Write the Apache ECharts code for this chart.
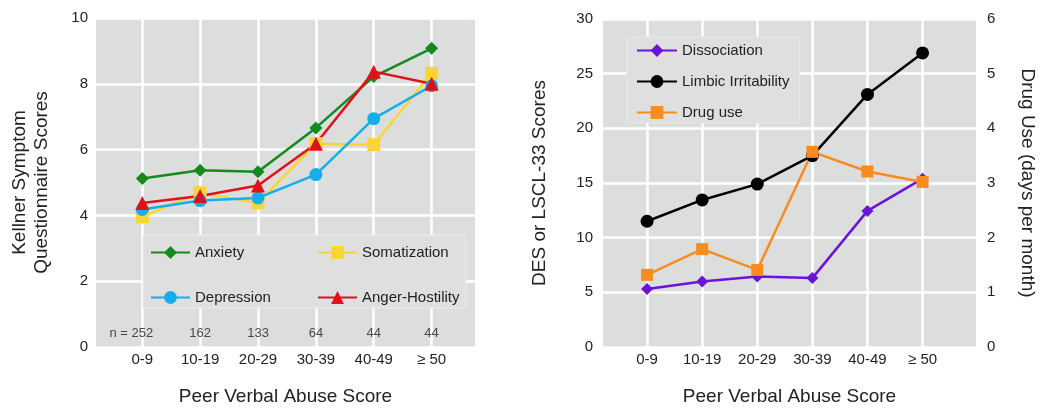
<!DOCTYPE html>
<html>
<head>
<meta charset="utf-8">
<script src="https://cdn.jsdelivr.net/npm/echarts@6/dist/echarts.min.js"></script>
<style>
  html, body { margin: 0; padding: 0; background: #fff; }
  #main { width: 1043px; height: 411px; }
</style>
</head>
<body>
<div id="main"></div>
<script>
// x categories (Peer Verbal Abuse Score)
const categories = ['0-9', '10-19', '20-29', '30-39', '40-49', '≥ 50']
const nCounts = [252, 162, 133, 64, 44, 44]

// left panel - Kellner Symptom Questionnaire
const anxiety = [5.12, 5.37, 5.33, 6.66, 8.22, 9.08]
const somatization = [3.96, 4.69, 4.38, 6.18, 6.15, 8.32]
const depression = [4.18, 4.45, 4.53, 5.24, 6.94, 7.94]
const angerHostility = [4.38, 4.59, 4.91, 6.18, 8.37, 8.0]

// right panel
const dissociation = [5.3, 6.0, 6.45, 6.3, 12.45, 15.4]
const limbic = [11.5, 13.45, 14.9, 17.5, 23.1, 26.9]
const drugUse = [1.32, 1.79, 1.41, 3.57, 3.21, 3.02]

const font = 'Liberation Sans, Arial, sans-serif'
const textColor = '#222'
const plotBg = '#dcdddd'

const toPoints = arr => arr.map((v, i) => [i + 1, v])
const catLabel = val => (Number.isInteger(val) && categories[val - 1]) ? categories[val - 1] : ''

const chartInstance = echarts.init(document.getElementById('main'))

const xAxisBase = (gridIndex, max) => ({
  type: 'value',
  gridIndex: gridIndex,
  min: 0.2,
  max: max,
  minInterval: 1,
  maxInterval: 1,
  axisLine: { show: false },
  axisTick: { show: false },
  axisLabel: {
    formatter: catLabel,
    color: textColor,
    fontFamily: font,
    fontSize: 15,
    margin: 5
  },
  splitLine: {
    show: true,
    showMinLine: false,
    showMaxLine: false,
    lineStyle: { color: '#fff', width: 2.5 }
  },
  name: 'Peer Verbal Abuse Score',
  nameLocation: 'middle',
  nameGap: 40,
  nameTextStyle: { color: textColor, fontFamily: font, fontSize: 19 }
})

const lineSeries = (name, data, color, symbol, size, xIdx, yIdx) => ({
  name: name,
  type: 'line',
  xAxisIndex: xIdx,
  yAxisIndex: yIdx,
  data: toPoints(data),
  color: color,
  symbol: symbol,
  symbolSize: size,
  lineStyle: { width: 2.5, color: color },
  itemStyle: { color: color },
  emphasis: { disabled: true }
})

const legendText = { color: textColor, fontFamily: font, fontSize: 15 }

const initOption = {
  animation: false,
  grid: [
    { left: 96, right: 568, top: 18, bottom: 64, show: true, backgroundColor: plotBg, borderWidth: 0 },
    { left: 603, right: 67, top: 19, bottom: 64, show: true, backgroundColor: plotBg, borderWidth: 0 }
  ],
  legend: [
    {
      // left panel, first column (its background spans the whole box)
      data: ['Anxiety', 'Depression'],
      left: 143,
      top: 235,
      orient: 'vertical',
      itemWidth: 39,
      itemHeight: 16,
      itemGap: 30,
      padding: [10, 195, 3, 7],
      backgroundColor: '#dfdfdf',
      borderColor: '#ececec',
      borderWidth: 1,
      textStyle: legendText
    },
    {
      // left panel, second column
      data: ['Somatization', 'Anger-Hostility'],
      left: 317,
      top: 235,
      orient: 'vertical',
      itemWidth: 39,
      itemHeight: 16,
      itemGap: 30,
      padding: [10, 0, 3, 0],
      textStyle: legendText
    },
    {
      data: ['Dissociation', 'Limbic Irritability', 'Drug use'],
      left: 627,
      top: 37,
      orient: 'vertical',
      itemWidth: 40,
      itemHeight: 16,
      itemGap: 16,
      padding: [6, 10, 3, 9],
      backgroundColor: '#dfdfdf',
      borderColor: '#e8e8e8',
      borderWidth: 1,
      textStyle: legendText
    }
  ],
  xAxis: [
    xAxisBase(0, 6.75),
    xAxisBase(1, 6.97)
  ],
  yAxis: [
    {
      type: 'value',
      gridIndex: 0,
      min: 0,
      max: 10,
      interval: 2,
      axisLine: { show: false },
      axisTick: { show: false },
      axisLabel: { color: textColor, fontFamily: font, fontSize: 15, margin: 8 },
      splitLine: { lineStyle: { color: '#fff', width: 2.5 } },
      name: 'Kellner Symptom\nQuestionnaire Scores',
      nameLocation: 'middle',
      nameGap: 43,
      nameTextStyle: { color: textColor, fontFamily: font, fontSize: 19, lineHeight: 22 }
    },
    {
      type: 'value',
      gridIndex: 1,
      min: 0,
      max: 30,
      interval: 5,
      axisLine: { show: false },
      axisTick: { show: false },
      axisLabel: { color: textColor, fontFamily: font, fontSize: 15, margin: 10 },
      splitLine: { lineStyle: { color: '#fff', width: 2.5 } },
      name: 'DES or LSCL-33 Scores',
      nameLocation: 'middle',
      nameGap: 54,
      nameTextStyle: { color: textColor, fontFamily: font, fontSize: 19 }
    },
    {
      type: 'value',
      gridIndex: 1,
      position: 'right',
      min: 0,
      max: 6,
      interval: 1,
      axisLine: { show: false },
      axisTick: { show: false },
      axisLabel: { color: textColor, fontFamily: font, fontSize: 15, margin: 11 },
      splitLine: { show: false },
      name: 'Drug Use (days per month)',
      nameLocation: 'middle',
      nameRotate: -90,
      nameGap: 42,
      nameTextStyle: { color: textColor, fontFamily: font, fontSize: 19 }
    }
  ],
  series: [
    lineSeries('Somatization', somatization, '#fcd535', 'rect', 13, 0, 0),
    lineSeries('Depression', depression, '#14aeea', 'circle', 13, 0, 0),
    lineSeries('Anxiety', anxiety, '#148a1e', 'diamond', 13, 0, 0),
    lineSeries('Anger-Hostility', angerHostility, '#e2101a', 'triangle', 14, 0, 0),
    {
      // sample sizes printed along the bottom of the left panel
      name: 'n',
      type: 'scatter',
      xAxisIndex: 0,
      yAxisIndex: 0,
      symbolSize: 0,
      silent: true,
      data: nCounts.map((n, i) => ({
        value: [i + 1, 0.42],
        label: i === 0 ? { formatter: 'n = ' + n, offset: [-11, 0] } : { formatter: String(n) }
      })),
      label: { show: true, position: 'inside', color: textColor, fontFamily: font, fontSize: 13 }
    },
    lineSeries('Dissociation', dissociation, '#6a14d6', 'diamond', 12, 1, 1),
    lineSeries('Limbic Irritability', limbic, '#000000', 'circle', 13, 1, 1),
    lineSeries('Drug use', drugUse, '#f88c1e', 'rect', 12, 1, 2)
  ]
}

chartInstance.setOption(initOption)
</script>
</body>
</html>
